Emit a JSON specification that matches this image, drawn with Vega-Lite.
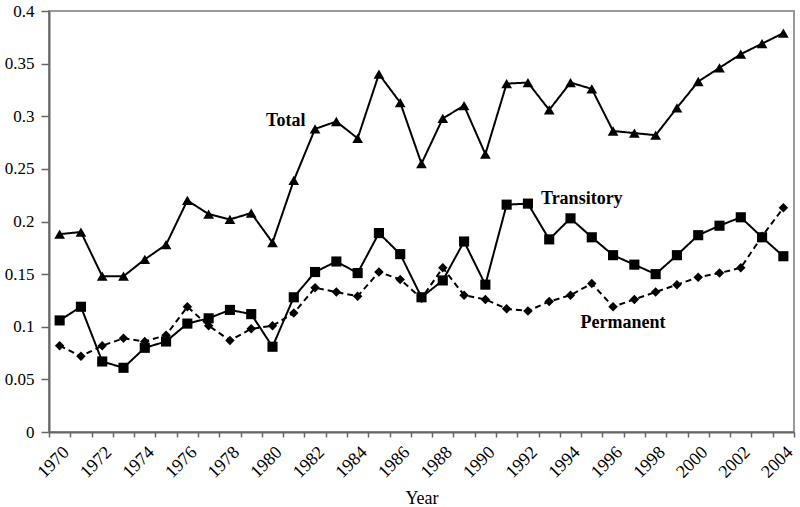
{
  "$schema": "https://vega.github.io/schema/vega-lite/v6.json",
  "width": 745,
  "height": 421,
  "autosize": "none",
  "padding": {"top": 11, "left": 49, "right": 6, "bottom": 75},
  "background": "white",
  "config": {
    "font": "Liberation Serif",
    "view": {"stroke": "#9a9a9a", "strokeWidth": 2},
    "axis": {"labelFont": "Liberation Serif", "titleFont": "Liberation Serif", "labelColor": "black", "titleColor": "black", "domainColor": "#666", "tickColor": "#666", "domainWidth": 2, "tickWidth": 1.5, "grid": false},
    "text": {"font": "Liberation Serif", "fontSize": 18, "fontWeight": "bold", "color": "black", "align": "center", "baseline": "middle"}
  },
  "datasets": {
    "series": [
      {"year": 1970, "series": "Total", "value": 0.188},
      {"year": 1971, "series": "Total", "value": 0.190},
      {"year": 1972, "series": "Total", "value": 0.148},
      {"year": 1973, "series": "Total", "value": 0.148},
      {"year": 1974, "series": "Total", "value": 0.164},
      {"year": 1975, "series": "Total", "value": 0.178},
      {"year": 1976, "series": "Total", "value": 0.220},
      {"year": 1977, "series": "Total", "value": 0.207},
      {"year": 1978, "series": "Total", "value": 0.202},
      {"year": 1979, "series": "Total", "value": 0.208},
      {"year": 1980, "series": "Total", "value": 0.180},
      {"year": 1981, "series": "Total", "value": 0.239},
      {"year": 1982, "series": "Total", "value": 0.288},
      {"year": 1983, "series": "Total", "value": 0.295},
      {"year": 1984, "series": "Total", "value": 0.279},
      {"year": 1985, "series": "Total", "value": 0.340},
      {"year": 1986, "series": "Total", "value": 0.313},
      {"year": 1987, "series": "Total", "value": 0.255},
      {"year": 1988, "series": "Total", "value": 0.298},
      {"year": 1989, "series": "Total", "value": 0.310},
      {"year": 1990, "series": "Total", "value": 0.264},
      {"year": 1991, "series": "Total", "value": 0.331},
      {"year": 1992, "series": "Total", "value": 0.332},
      {"year": 1993, "series": "Total", "value": 0.306},
      {"year": 1994, "series": "Total", "value": 0.332},
      {"year": 1995, "series": "Total", "value": 0.326},
      {"year": 1996, "series": "Total", "value": 0.286},
      {"year": 1997, "series": "Total", "value": 0.284},
      {"year": 1998, "series": "Total", "value": 0.282},
      {"year": 1999, "series": "Total", "value": 0.308},
      {"year": 2000, "series": "Total", "value": 0.333},
      {"year": 2001, "series": "Total", "value": 0.346},
      {"year": 2002, "series": "Total", "value": 0.359},
      {"year": 2003, "series": "Total", "value": 0.369},
      {"year": 2004, "series": "Total", "value": 0.379},
      {"year": 1970, "series": "Transitory", "value": 0.106},
      {"year": 1971, "series": "Transitory", "value": 0.119},
      {"year": 1972, "series": "Transitory", "value": 0.067},
      {"year": 1973, "series": "Transitory", "value": 0.061},
      {"year": 1974, "series": "Transitory", "value": 0.080},
      {"year": 1975, "series": "Transitory", "value": 0.086},
      {"year": 1976, "series": "Transitory", "value": 0.103},
      {"year": 1977, "series": "Transitory", "value": 0.108},
      {"year": 1978, "series": "Transitory", "value": 0.116},
      {"year": 1979, "series": "Transitory", "value": 0.112},
      {"year": 1980, "series": "Transitory", "value": 0.081},
      {"year": 1981, "series": "Transitory", "value": 0.128},
      {"year": 1982, "series": "Transitory", "value": 0.152},
      {"year": 1983, "series": "Transitory", "value": 0.162},
      {"year": 1984, "series": "Transitory", "value": 0.151},
      {"year": 1985, "series": "Transitory", "value": 0.189},
      {"year": 1986, "series": "Transitory", "value": 0.169},
      {"year": 1987, "series": "Transitory", "value": 0.128},
      {"year": 1988, "series": "Transitory", "value": 0.144},
      {"year": 1989, "series": "Transitory", "value": 0.181},
      {"year": 1990, "series": "Transitory", "value": 0.140},
      {"year": 1991, "series": "Transitory", "value": 0.216},
      {"year": 1992, "series": "Transitory", "value": 0.217},
      {"year": 1993, "series": "Transitory", "value": 0.183},
      {"year": 1994, "series": "Transitory", "value": 0.203},
      {"year": 1995, "series": "Transitory", "value": 0.185},
      {"year": 1996, "series": "Transitory", "value": 0.168},
      {"year": 1997, "series": "Transitory", "value": 0.159},
      {"year": 1998, "series": "Transitory", "value": 0.150},
      {"year": 1999, "series": "Transitory", "value": 0.168},
      {"year": 2000, "series": "Transitory", "value": 0.187},
      {"year": 2001, "series": "Transitory", "value": 0.196},
      {"year": 2002, "series": "Transitory", "value": 0.204},
      {"year": 2003, "series": "Transitory", "value": 0.185},
      {"year": 2004, "series": "Transitory", "value": 0.167},
      {"year": 1970, "series": "Permanent", "value": 0.082},
      {"year": 1971, "series": "Permanent", "value": 0.072},
      {"year": 1972, "series": "Permanent", "value": 0.082},
      {"year": 1973, "series": "Permanent", "value": 0.089},
      {"year": 1974, "series": "Permanent", "value": 0.086},
      {"year": 1975, "series": "Permanent", "value": 0.092},
      {"year": 1976, "series": "Permanent", "value": 0.119},
      {"year": 1977, "series": "Permanent", "value": 0.101},
      {"year": 1978, "series": "Permanent", "value": 0.087},
      {"year": 1979, "series": "Permanent", "value": 0.098},
      {"year": 1980, "series": "Permanent", "value": 0.101},
      {"year": 1981, "series": "Permanent", "value": 0.113},
      {"year": 1982, "series": "Permanent", "value": 0.137},
      {"year": 1983, "series": "Permanent", "value": 0.133},
      {"year": 1984, "series": "Permanent", "value": 0.129},
      {"year": 1985, "series": "Permanent", "value": 0.152},
      {"year": 1986, "series": "Permanent", "value": 0.145},
      {"year": 1987, "series": "Permanent", "value": 0.127},
      {"year": 1988, "series": "Permanent", "value": 0.156},
      {"year": 1989, "series": "Permanent", "value": 0.130},
      {"year": 1990, "series": "Permanent", "value": 0.126},
      {"year": 1991, "series": "Permanent", "value": 0.117},
      {"year": 1992, "series": "Permanent", "value": 0.115},
      {"year": 1993, "series": "Permanent", "value": 0.124},
      {"year": 1994, "series": "Permanent", "value": 0.130},
      {"year": 1995, "series": "Permanent", "value": 0.141},
      {"year": 1996, "series": "Permanent", "value": 0.119},
      {"year": 1997, "series": "Permanent", "value": 0.126},
      {"year": 1998, "series": "Permanent", "value": 0.133},
      {"year": 1999, "series": "Permanent", "value": 0.140},
      {"year": 2000, "series": "Permanent", "value": 0.147},
      {"year": 2001, "series": "Permanent", "value": 0.151},
      {"year": 2002, "series": "Permanent", "value": 0.156},
      {"year": 2003, "series": "Permanent", "value": 0.186},
      {"year": 2004, "series": "Permanent", "value": 0.213}
    ],
    "labels": [
      {"year": 1981, "value": 0.2955, "label": "Total"},
      {"year": 1995, "value": 0.2214, "label": "Transitory"},
      {"year": 1996, "value": 0.1036, "label": "Permanent"}
    ]
  },
  "encoding": {
    "x": {
      "field": "year",
      "type": "ordinal",
      "scale": {"type": "band", "paddingInner": 0, "paddingOuter": 0},
      "axis": {
        "title": "Year",
        "titleFontSize": 18,
        "titleFontWeight": "normal",
        "titlePadding": 8,
        "labelAngle": -45,
        "labelFontSize": 18,
        "labelPadding": 6,
        "tickBand": "extent",
        "tickSize": 5,
        "labelExpr": "datum.value % 2 == 0 ? datum.label : ''"
      }
    },
    "y": {
      "field": "value",
      "type": "quantitative",
      "scale": {"domain": [0, 0.4], "nice": false},
      "axis": {
        "title": null,
        "values": [0, 0.05, 0.1, 0.15, 0.2, 0.25, 0.3, 0.35, 0.4],
        "format": ".2~f",
        "labelFontSize": 17,
        "tickSize": 8,
        "labelPadding": 7
      }
    }
  },
  "layer": [
    {
      "data": {"name": "series"},
      "mark": {"type": "line", "color": "black", "strokeWidth": 2},
      "encoding": {
        "detail": {"field": "series"},
        "strokeDash": {
          "field": "series",
          "type": "nominal",
          "scale": {"domain": ["Total", "Transitory", "Permanent"], "range": [[1, 0], [1, 0], [6, 4]]},
          "legend": null
        }
      }
    },
    {
      "data": {"name": "series"},
      "mark": {"type": "point", "filled": true, "color": "black", "opacity": 1},
      "encoding": {
        "shape": {
          "field": "series",
          "type": "nominal",
          "scale": {"domain": ["Total", "Transitory", "Permanent"], "range": ["triangle-up", "square", "diamond"]},
          "legend": null
        },
        "size": {
          "field": "series",
          "type": "nominal",
          "scale": {"domain": ["Total", "Transitory", "Permanent"], "range": [115, 90, 55]},
          "legend": null
        }
      }
    },
    {
      "data": {"name": "labels"},
      "transform": [{"filter": "datum.label == 'Total'"}],
      "mark": {"type": "text", "dx": -8},
      "encoding": {"text": {"field": "label"}}
    },
    {
      "data": {"name": "labels"},
      "transform": [{"filter": "datum.label == 'Transitory'"}],
      "mark": {"type": "text", "dx": -10},
      "encoding": {"text": {"field": "label"}}
    },
    {
      "data": {"name": "labels"},
      "transform": [{"filter": "datum.label == 'Permanent'"}],
      "mark": {"type": "text", "dx": 10},
      "encoding": {"text": {"field": "label"}}
    }
  ]
}
